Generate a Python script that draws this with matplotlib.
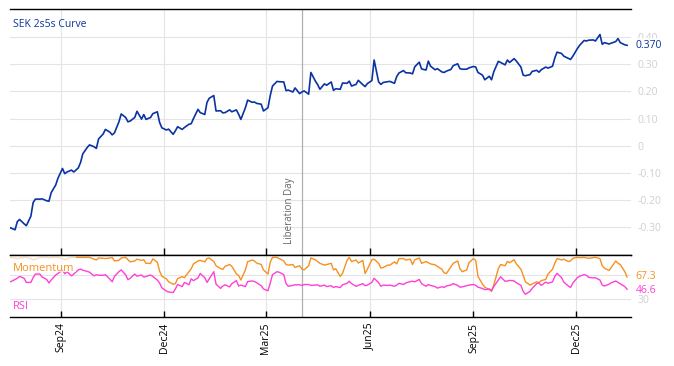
import numpy as np
import pandas as pd
import matplotlib
matplotlib.use("Agg")
import matplotlib.pyplot as plt
from matplotlib.patches import Rectangle

plt.rcParams['font.family'] = ['Open Sans', 'DejaVu Sans']

# every second business day
dates = pd.date_range('2024-07-18', periods=196, freq='2B')

curve = [
    -0.303, -0.31, -0.28, -0.272, -0.288, -0.295, -0.26, -0.21, -0.197, -0.197,
    -0.196, -0.203, -0.205, -0.173, -0.145, -0.12, -0.084, -0.103, -0.097, -0.09,
    -0.097, -0.082, -0.062, -0.03, -0.006, 0.003, -0.004, -0.01, 0.025, 0.043,
    0.06, 0.05, 0.04, 0.047, 0.088, 0.117, 0.104, 0.088, 0.091, 0.104,
    0.127, 0.098, 0.115, 0.097, 0.104, 0.118, 0.125, 0.086, 0.066, 0.058,
    0.061, 0.042, 0.055, 0.07, 0.06, 0.067, 0.079, 0.081, 0.1, 0.134,
    0.122, 0.115, 0.16, 0.175, 0.185, 0.128, 0.129, 0.121, 0.122, 0.132,
    0.125, 0.132, 0.116, 0.097, 0.14, 0.168, 0.16, 0.161, 0.156, 0.153,
    0.128, 0.14, 0.185, 0.22, 0.237, 0.236, 0.235, 0.203, 0.205, 0.198,
    0.213, 0.192, 0.198, 0.202, 0.19, 0.27, 0.238, 0.225, 0.208, 0.228,
    0.223, 0.235, 0.204, 0.21, 0.208, 0.231, 0.23, 0.238, 0.22, 0.226,
    0.241, 0.225, 0.218, 0.229, 0.24, 0.316, 0.235, 0.226, 0.233, 0.236,
    0.237, 0.23, 0.255, 0.268, 0.277, 0.269, 0.268, 0.265, 0.291, 0.308,
    0.283, 0.279, 0.312, 0.293, 0.28, 0.284, 0.272, 0.27, 0.275, 0.281,
    0.295, 0.302, 0.284, 0.282, 0.282, 0.287, 0.292, 0.29, 0.27, 0.26,
    0.243, 0.256, 0.243, 0.273, 0.311, 0.307, 0.298, 0.316, 0.307, 0.321,
    0.312, 0.29, 0.26, 0.258, 0.262, 0.274, 0.278, 0.271, 0.28, 0.29,
    0.286, 0.293, 0.323, 0.345, 0.34, 0.33, 0.322, 0.318, 0.33, 0.358,
    0.37, 0.388, 0.386, 0.389, 0.39, 0.386, 0.41, 0.374, 0.38, 0.375,
    0.378, 0.384, 0.395, 0.38, 0.372, 0.370,
]

momentum = [
    100, 99, 98, 99, 100, 100, 98, 96, 97, 100,
    100, 100, 99, 100, 100, 100, 98, 96, 98, 100,
    100, 100, 100, 100, 100, 100, 97, 95.6, 99, 98.5,
    98, 99, 100, 94, 95, 99, 100, 96, 92.5, 94,
    97, 95, 96, 90, 90, 97.5, 92, 77, 68.5, 64,
    59, 55, 56, 64.5, 67.5, 66, 76, 81, 89, 94,
    95, 92.5, 98, 99, 93, 86, 81, 80, 85, 88,
    85, 72.5, 69.5, 62, 79, 92.8, 95.5, 94, 90.5, 88,
    79, 72, 92, 100, 100, 98, 94, 88, 87, 88,
    83, 86, 80.5, 79, 86, 99, 96, 93, 90, 87,
    88, 90, 79, 81, 68, 73, 95, 100, 93, 95.6,
    90.5, 95, 73, 80, 96, 97, 90, 82, 83, 87,
    87, 92.5, 89, 98, 98, 95.6, 97, 88, 96, 99,
    90, 93, 91, 89, 87.5, 85, 80, 74, 73, 84,
    90, 94, 81, 76, 79, 91, 98, 95, 68, 55,
    50, 46, 43, 54, 81, 88, 86, 93, 91, 96,
    89, 80, 70, 59, 53.5, 55.5, 59, 57.5, 61, 63,
    72, 80, 90, 98, 95.6, 97, 93, 94, 98.5, 100,
    99.5, 100, 99, 98.5, 99.5, 100, 98, 86, 82, 78,
    83, 94, 90, 88, 76, 67.3,
]

rsi = [
    59, 63, 65, 68, 65, 58, 58, 66, 72, 72,
    67, 63, 57, 62, 70.5, 73, 79, 72.5, 76, 69,
    72, 79, 80.5, 78.5, 76.5, 75, 69, 71, 70, 70,
    71, 63.5, 59, 68, 76, 79, 70.5, 62.5, 65, 72,
    68.5, 70.5, 67, 68, 70.5, 68, 62, 57, 49, 43.5,
    42, 41, 47, 54.5, 51, 58, 54, 64, 61, 65.5,
    73, 66, 58, 64, 76, 55, 48, 52, 54, 50.5,
    56, 61, 52, 53.5, 51, 59.4, 60.5, 59.5, 57.5, 52.5,
    47, 44, 57, 71, 76, 75, 71, 56, 51.5, 53,
    54, 54, 53, 54.5, 54.5, 53, 53.5, 54, 51.5, 53.5,
    51, 52.5, 49.5, 51, 49.4, 54, 56.5, 60, 56, 51.5,
    53, 56, 52.5, 53.5, 58, 65, 57.5, 51.5, 53.5, 53,
    53.5, 51.5, 53.5, 56.5, 54.5, 57, 59.5, 60, 59, 63,
    56, 51.5, 54.5, 52.8, 51, 48.5, 50.7, 49.6, 52, 53.6,
    56, 53, 50, 50.5, 52.5, 53.5, 54.5, 53, 50, 47.8,
    45.8, 47, 44.5, 51, 62, 67.5, 60, 60.3, 61.5, 60.5,
    57.5, 53, 43, 38, 43, 48, 56, 57, 53, 58.5,
    56.5, 59, 68, 73.3, 66, 58.5, 52, 49.5, 57, 66,
    68.5, 71, 70, 66.5, 65.5, 65.8, 62, 53.5, 52, 55,
    57.5, 60.3, 58, 55.5, 51, 46.6,
]

month_ticks = ['2024-09-01', '2024-12-01', '2025-03-01', '2025-06-01', '2025-09-01', '2025-12-01']
month_labels = ['Sep24', 'Dec24', 'Mar25', 'Jun25', 'Sep25', 'Dec25']
curve_ticks = [-0.3, -0.2, -0.1, 0, 0.1, 0.2, 0.3, 0.4]
curve_tick_labels = ['-0.30', '-0.20', '-0.10', '0', '0.10', '0.20', '0.30', '0.40']
osc_ticks = [30, 70]
osc_tick_labels = ['30', '']   # 70 sits under the momentum value tag
event_date = '2025-04-02'
event_name = 'Liberation Day'

blue = '#0a33a3'
orange = '#f7901e'
pink = '#ff3fd6'
grid_c = '#e4e4e4'
tick_c = '#cfcfcf'

fig = plt.figure(figsize=(6.74, 3.66), dpi=100)
ax = fig.add_axes([0.0148, 0.3033, 0.9214, 0.6721])
ax2 = fig.add_axes([0.0148, 0.1339, 0.9214, 0.1694], sharex=ax)

ax.plot(dates, curve, color=blue, lw=1.2, zorder=3)
ax2.plot(dates, momentum, color=orange, lw=1.0, zorder=3)
ax2.plot(dates, rsi, color=pink, lw=1.0, zorder=3)

ax.set_xlim(pd.Timestamp('2024-07-17 12:00'), pd.Timestamp('2026-01-18 12:00'))
ax.set_ylim(-0.403, 0.504)
ax2.set_ylim(0, 104)

for a in (ax, ax2):
    for s in ('left', 'right'):
        a.spines[s].set_visible(False)
    for s in ('top', 'bottom'):
        a.spines[s].set_color('black')
        a.spines[s].set_linewidth(1.0)
        a.spines[s].set_zorder(6)
    a.grid(True, color=grid_c, lw=0.8, zorder=0)
    a.yaxis.tick_right()
    a.tick_params(axis='y', length=0, pad=5, labelcolor=tick_c, labelsize=7.5)
    a.tick_params(axis='x', direction='in', length=5, width=1, top=False)
    a.axvline(pd.Timestamp(event_date), color='#b0b0b0', lw=0.9, zorder=2)

ax.set_xticks(pd.to_datetime(month_ticks))
ax2.set_xticklabels(month_labels, rotation=90, fontsize=7.5)
ax.tick_params(axis='x', labelbottom=False)
ax2.tick_params(axis='x', length=4, pad=4)

ax.set_yticks(curve_ticks)
ax.set_yticklabels(curve_tick_labels)
ax2.set_yticks(osc_ticks)
ax2.set_yticklabels(osc_tick_labels)

box = dict(facecolor='white', edgecolor='none', alpha=0.85, pad=1.5)
ytr = ax.get_yaxis_transform()
ax.text(1.007, curve[-1], f'{curve[-1]:.3f}', transform=ytr, color=blue,
        fontsize=7.5, va='center', ha='left', bbox=box, clip_on=False)
ytr2 = ax2.get_yaxis_transform()
ax2.text(1.007, momentum[-1] + 0.5, f'{momentum[-1]:.1f}', transform=ytr2, color=orange,
         fontsize=7.5, va='center', ha='left', clip_on=False)
ax2.text(1.007, rsi[-1] - 2, f'{rsi[-1]:.1f}', transform=ytr2, color=pink,
         fontsize=7.5, va='center', ha='left', clip_on=False)

ax.text(0.005, 0.935, 'SEK 2s5s Curve', transform=ax.transAxes, color=blue,
        fontsize=7.5, va='center', ha='left', zorder=5)

# white veil behind the momentum tag
ax2.add_patch(Rectangle((0, 0.72), 0.107, 0.28, transform=ax2.transAxes,
                        facecolor='white', edgecolor='none', alpha=0.7, zorder=4))
ax2.text(0.005, 0.79, 'Momentum', transform=ax2.transAxes, color=orange, fontsize=8,
         va='center', ha='left', zorder=5)
ax2.text(0.005, 0.177, 'RSI', transform=ax2.transAxes, color=pink, fontsize=8,
         va='center', ha='left', zorder=5)

ax.annotate(event_name, xy=(pd.Timestamp(event_date), 0.045), xycoords=('data', 'axes fraction'),
            xytext=(-9, 0), textcoords='offset points', rotation=90, color='#666666',
            fontsize=7, va='bottom', ha='center')

fig.savefig('out.png', dpi=100)
